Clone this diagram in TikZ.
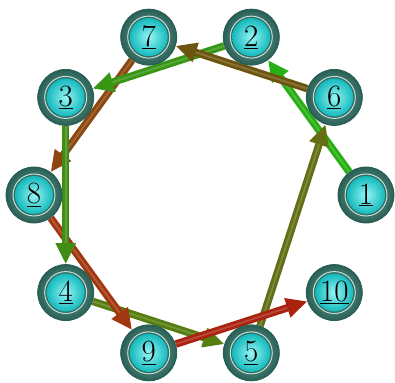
\documentclass[tikz,border=0pt]{standalone}
\usetikzlibrary{arrows.meta,backgrounds}
\definecolor{ringdark}{RGB}{40,95,85}
\definecolor{ringmid}{RGB}{80,140,128}
\definecolor{ringin}{RGB}{50,110,98}
\definecolor{ballin}{RGB}{150,245,245}
\definecolor{ballout}{RGB}{20,185,188}
\definecolor{cA}{RGB}{40,175,20}
\definecolor{cB}{RGB}{55,150,20}
\definecolor{cC}{RGB}{65,140,20}
\definecolor{cD}{RGB}{85,125,15}
\definecolor{cE}{RGB}{100,110,20}
\definecolor{cF}{RGB}{110,85,15}
\definecolor{cG}{RGB}{140,70,15}
\definecolor{cH}{RGB}{160,55,15}
\definecolor{cI}{RGB}{170,35,15}
\tikzset{
  vert/.style={circle, minimum size=56pt, inner sep=0pt, draw=ringdark, line width=0.8pt,
    fill=ringmid, font=\fontsize{31}{31}\selectfont,
    path picture={
      \shade[inner color=ringmid!70!white, outer color=ringdark] (path picture bounding box.center) circle (28pt);
      \fill[ringin] (path picture bounding box.center) circle (22.3pt);
      \draw[white!70!ringmid, line width=1pt] (path picture bounding box.center) circle (21pt);
      \shade[inner color=ballin, outer color=ballout] (path picture bounding box.center) circle (19pt);
    }},
  edge/.style={draw=#1, line width=7.5pt, -{Triangle[length=21pt,width=19pt]},
    postaction={draw=#1!55!white, line width=1.8pt, -, shorten >=21pt, opacity=0.4}}
}
\begin{document}
\begin{tikzpicture}[x=1pt,y=1pt]
\useasboundingbox (-200,-187) rectangle (195,195);
\def\R{166}
\node[vert] (n2) at (72:\R) {\underline{2}};
\node[vert] (n6) at (36:\R) {\underline{6}};
\node[vert] (n1) at (0:\R) {\underline{1}};
\node[vert] (n10) at (-36:\R) {\underline{10}};
\node[vert] (n5) at (-72:\R) {\underline{5}};
\node[vert] (n9) at (-108:\R) {\underline{9}};
\node[vert] (n4) at (-144:\R) {\underline{4}};
\node[vert] (n8) at (180:\R) {\underline{8}};
\node[vert] (n3) at (144:\R) {\underline{3}};
\node[vert] (n7) at (108:\R) {\underline{7}};
\begin{scope}[on background layer]
\draw[edge=cA] (n1) -- (n2);
\draw[edge=cG] (n7) -- (n8);
\draw[edge=cB] (n2) -- (n3);
\draw[edge=cF] (n6) -- (n7);
\draw[edge=cD] (n4) -- (n5);
\draw[edge=cH] (n8) -- (n9);
\draw[edge=cC] (n3) -- (n4);
\draw[edge=cE] (n5) -- (n6);
\draw[edge=cI] (n9) -- (n10);
\end{scope}
\end{tikzpicture}
\end{document}
